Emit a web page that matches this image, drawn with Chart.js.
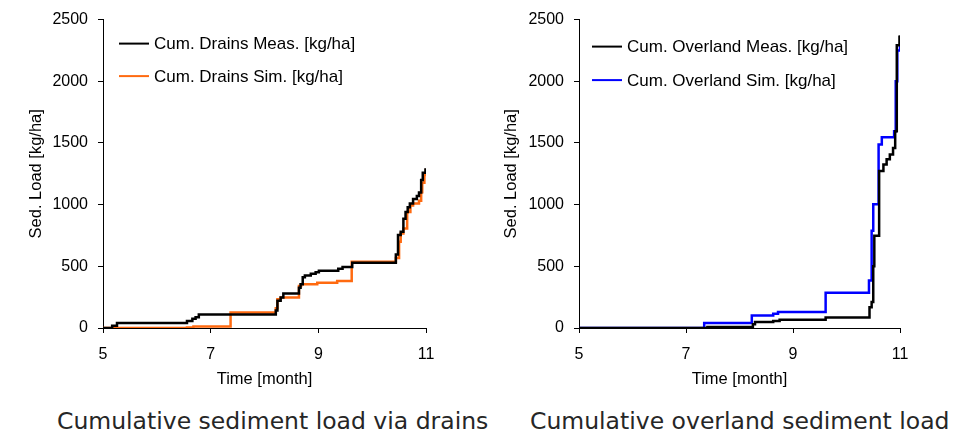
<!DOCTYPE html>
<html>
<head>
<meta charset="utf-8">
<script src="https://cdn.jsdelivr.net/npm/chart.js@4.4.1/dist/chart.umd.min.js"></script>
<style>
  html, body { margin: 0; padding: 0; background: #fff; }
  #wrap { position: relative; width: 967px; height: 434px; overflow: hidden; }
  canvas { position: absolute; top: 0; }
  .caption {
    position: absolute; top: 410px; white-space: nowrap;
    font-family: "DejaVu Sans", Verdana, sans-serif; font-size: 23.5px; line-height: 1;
    color: #262626;
  }
</style>
</head>
<body>
<div id="wrap">
  <canvas id="drains" width="483" height="393" style="left:0"></canvas>
  <canvas id="overland" width="484" height="393" style="left:483px"></canvas>
  <div class="caption" style="left:57px">Cumulative sediment load via drains</div>
  <div class="caption" style="left:530px">Cumulative overland sediment load</div>
</div>
<script>
// time in months, cumulative load in kg/ha (value reached at each step)
const drainsMeasTime = [5.0, 5.17, 5.26, 6.56, 6.66, 6.72, 6.78, 8.21, 8.24, 8.30, 8.35, 8.64, 8.67, 8.71, 8.75, 8.86, 8.95, 9.01, 9.37, 9.45, 9.63,
  10.44, 10.48, 10.53, 10.58, 10.62, 10.66, 10.70, 10.76, 10.83, 10.87, 10.91, 10.94, 10.99];
const drainsMeasLoad = [0, 18, 40, 56, 75, 88, 109, 141, 221, 247, 279, 327, 354, 412, 425, 440, 452, 465, 481, 495, 528,
  595, 754, 780, 886, 940, 979, 1010, 1045, 1070, 1099, 1200, 1258, 1295];

const drainsSimTime = [5.0, 6.56, 6.68, 7.37, 8.21, 8.24, 8.30, 8.64, 8.68, 8.98, 9.35, 9.62,
  10.44, 10.50, 10.53, 10.58, 10.65, 10.71, 10.76, 10.87, 10.91, 10.93, 10.97, 11.0];
const drainsSimLoad = [0, 5, 13, 125, 160, 234, 247, 340, 354, 367, 380, 537,
  568, 700, 767, 807, 940, 993, 1010, 1032, 1100, 1178, 1240, 1290];

const overMeasTime = [5.0, 7.40, 8.25, 8.29, 8.63, 8.75, 9.61, 10.43, 10.47, 10.50, 10.52, 10.61, 10.69, 10.75, 10.81, 10.87, 10.91, 10.94, 10.99, 11.01];
const overMeasLoad = [0, 8, 30, 48, 56, 67, 85, 169, 210, 500, 748, 1272, 1326, 1367, 1406, 1460, 1594, 2293, 2360, 2373];

const overSimTime = [5.0, 7.34, 8.23, 8.63, 8.72, 9.61, 10.42, 10.47, 10.50, 10.60, 10.66, 10.89, 10.92, 10.95, 11.0];
const overSimLoad = [0, 40, 102, 116, 129, 285, 385, 788, 1003, 1487, 1546, 1594, 2000, 2250, 2290];

const monthTicks = [5, 7, 9, 11];
const loadTicks = [0, 500, 1000, 1500, 2000, 2500];

const toPoints = (t, v) => t.map((x, i) => ({ x: x, y: v[i] }));

const FONT = "'Liberation Sans', Arial, sans-serif";

// legend drawn inside the plot area, top left
const innerLegend = {
  id: 'innerLegend',
  afterDraw(chart, args, opts) {
    const ctx = chart.ctx;
    const area = chart.chartArea;
    ctx.save();
    ctx.font = opts.fontSize + 'px ' + FONT;
    ctx.textBaseline = 'middle';
    ctx.fillStyle = '#000';
    chart.data.datasets.forEach((ds, i) => {
      const y = area.top + opts.y + i * opts.gap;
      const x = area.left + opts.x;
      ctx.strokeStyle = ds.borderColor;
      ctx.lineWidth = 2;
      ctx.beginPath();
      ctx.moveTo(x, y);
      ctx.lineTo(x + 30, y);
      ctx.stroke();
      ctx.fillText(ds.label, x + 35, y + 1);
    });
    ctx.restore();
  }
};

const axisCommon = {
  grid: { display: true, drawOnChartArea: false, drawTicks: true, tickLength: 5, color: '#000', tickColor: '#000' },
  border: { display: true, color: '#000', width: 1 }
};

function makeChart(id, sets, cfg) {
  return new Chart(document.getElementById(id), {
    type: 'line',
    data: {
      datasets: sets.map(s => ({
        label: s.label,
        data: toPoints(s.t, s.v),
        borderColor: s.color,
        borderWidth: 2.5,
        pointRadius: 0,
        stepped: 'before',
        fill: false
      }))
    },
    plugins: [innerLegend],
    options: {
      responsive: false,
      animation: false,
      layout: { padding: { left: cfg.padLeft, top: cfg.padTop, right: cfg.padRight, bottom: 0 } },
      plugins: {
        legend: { display: false },
        tooltip: { enabled: false },
        innerLegend: { x: cfg.legX, y: cfg.legY, gap: cfg.legGap, fontSize: 17 }
      },
      scales: {
        x: {
          ...axisCommon,
          type: 'linear', min: 5, max: 11,
          afterBuildTicks: s => { s.ticks = monthTicks.map(v => ({ value: v })); },
          afterFit: s => { s.height = 65; },
          ticks: { color: '#000', padding: 12, font: { family: FONT, size: 16 }, callback: v => String(v) },
          title: { display: true, text: 'Time [month]', color: '#000', font: { family: FONT, size: 16.5 } }
        },
        y: {
          ...axisCommon,
          min: 0, max: 2500,
          afterBuildTicks: s => { s.ticks = loadTicks.map(v => ({ value: v })); },
          afterFit: s => { s.width = cfg.yWidth; },
          ticks: { color: '#000', padding: 10, font: { family: FONT, size: 16 }, callback: v => String(v) },
          title: { display: true, text: 'Sed. Load [kg/ha]', color: '#000', font: { family: FONT, size: 16.5 } }
        }
      }
    }
  });
}

makeChart('drains', [
  { label: 'Cum. Drains Meas. [kg/ha]', t: drainsMeasTime, v: drainsMeasLoad, color: '#000000' },
  { label: 'Cum. Drains Sim. [kg/ha]', t: drainsSimTime, v: drainsSimLoad, color: '#ff6a10' }
], { padLeft: 23, yWidth: 80, padTop: 14, padRight: 57, legX: 16, legY: 24, legGap: 32.5 });

makeChart('overland', [
  { label: 'Cum. Overland Meas. [kg/ha]', t: overMeasTime, v: overMeasLoad, color: '#000000' },
  { label: 'Cum. Overland Sim. [kg/ha]', t: overSimTime, v: overSimLoad, color: '#0000ff' }
], { padLeft: 15, yWidth: 81, padTop: 17, padRight: 67, legX: 13, legY: 27, legGap: 33.5 });
</script>
</body>
</html>
